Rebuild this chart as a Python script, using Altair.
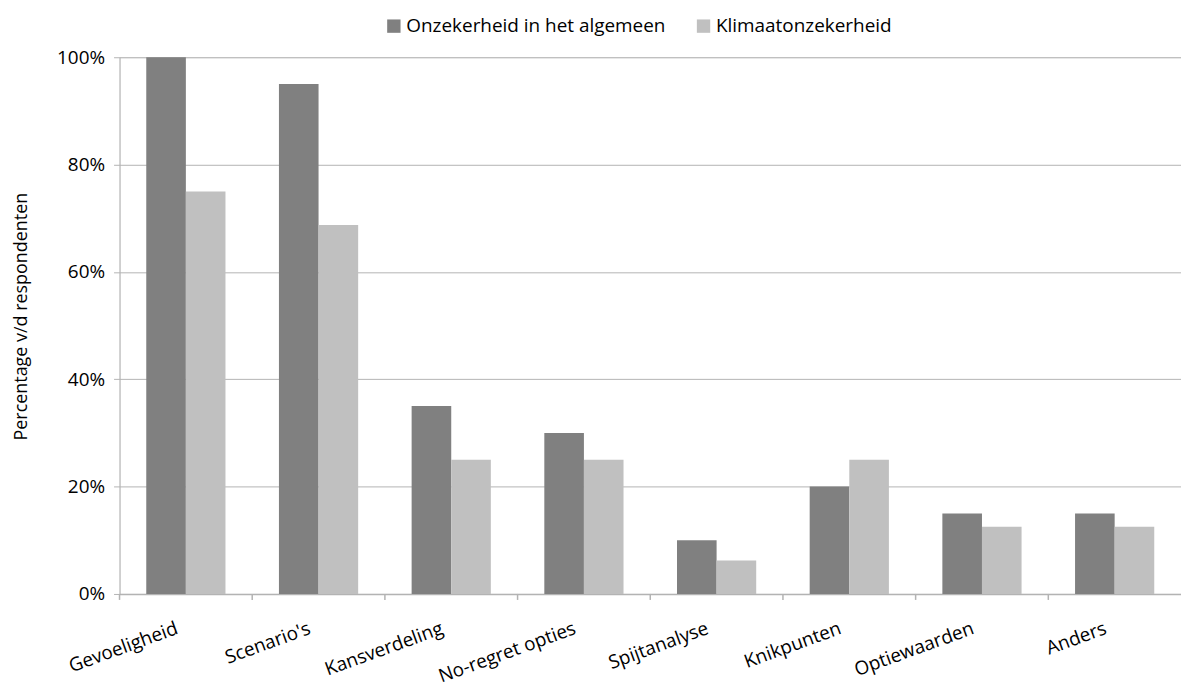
import altair as alt
import pandas as pd

categories = ["Gevoeligheid", "Scenario's", "Kansverdeling", "No-regret opties",
              "Spijtanalyse", "Knikpunten", "Optiewaarden", "Anders"]
series_names = ["Onzekerheid in het algemeen", "Klimaatonzekerheid"]
algemeen = [1.00, 0.95, 0.35, 0.30, 0.10, 0.20, 0.15, 0.15]
klimaat = [0.75, 0.6875, 0.25, 0.25, 0.0625, 0.25, 0.125, 0.125]
colors = ["#808080", "#C0C0C0"]
y_ticks = [0, 0.2, 0.4, 0.6, 0.8, 1.0]

rows = []
for c, a, k in zip(categories, algemeen, klimaat):
    rows.append({"cat": c, "serie": series_names[0], "val": a})
    rows.append({"cat": c, "serie": series_names[1], "val": k})
df = pd.DataFrame(rows)
ticks_df = pd.DataFrame({"cat": categories})

W, H = 1066, 539
FONT = "Open Sans"
GRID = "#B3B3B3"
FS = 19

xscale = alt.Scale(domain=categories, paddingInner=0, paddingOuter=0)

bars = alt.Chart(df).mark_bar().encode(
    x=alt.X("cat:N", sort=categories, scale=xscale,
            axis=alt.Axis(title=None, labelAngle=340, labelAlign="right",
                          labelBaseline="top", ticks=False, domain=True,
                          domainColor=GRID, domainWidth=1.5, labelPadding=25,
                          labelFontSize=FS, labelColor="black", labelFont=FONT,
                          labelOffset=-12, labelLimit=0)),
    xOffset=alt.XOffset("serie:N", sort=series_names,
                        scale=alt.Scale(domain=series_names, paddingInner=0, paddingOuter=0.675)),
    y=alt.Y("val:Q", scale=alt.Scale(domain=[0, 1], nice=False),
            axis=alt.Axis(values=y_ticks, format=".0%", title="Percentage v/d respondenten",
                          titleFont=FONT, titleFontSize=18, titleFontWeight="normal",
                          titleColor="black", titleX=-98, titleY=260,
                          titleAlign="center", titleBaseline="middle", titleAngle=270,
                          labelFont=FONT, labelFontSize=FS, labelColor="black",
                          labelPadding=9, tickSize=6, tickColor=GRID,
                          domainColor=GRID, gridColor=GRID, grid=True)),
    color=alt.Color("serie:N", sort=series_names,
                    scale=alt.Scale(domain=series_names, range=colors),
                    legend=alt.Legend(title=None, orient="none", direction="horizontal",
                                      legendX=266, legendY=-41, symbolType="square",
                                      symbolSize=180, symbolStrokeWidth=0,
                                      labelFont=FONT, labelFontSize=FS, labelColor="black",
                                      labelOffset=3, columnPadding=28, labelLimit=0)),
)

xticks = alt.Chart(ticks_df).mark_rule(color=GRID, strokeWidth=1.5).encode(
    x=alt.X("cat:N", sort=categories, scale=xscale, bandPosition=0),
    y=alt.value(H),
    y2=alt.value(H + 6),
)

chart = alt.layer(bars, xticks).properties(
    width=W, height=H,
    autosize=alt.AutoSizeParams(type="none"),
    padding={"left": 112, "top": 48, "right": 0, "bottom": 96},
).configure_view(stroke=None).configure(font=FONT)

chart.save("out.html", embed_options={"renderer": "svg", "actions": False})
